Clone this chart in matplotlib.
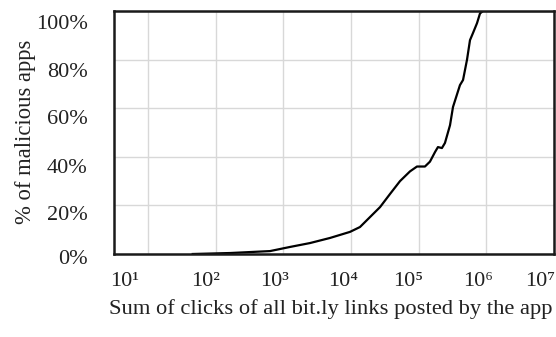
import numpy as np
import matplotlib
matplotlib.use("Agg")
import matplotlib.pyplot as plt
from matplotlib.transforms import ScaledTranslation

plt.rcParams['font.family'] = ['Liberation Serif', 'DejaVu Serif']

# data
clicks = [46, 164, 638, 1259, 2483, 4909, 9683, 13610, 19140, 26920, 37800, 53100, 74600,
          94600, 124000, 147000, 175000, 193000, 221000, 245000, 291000, 322000,
          408000, 453000, 519000, 574000, 637000, 729000, 807000, 893000, 1e7]
pct = [0, 0.4, 1.2, 2.9, 4.5, 6.6, 9.1, 11.1, 15.2, 19.3, 24.7, 30, 34,
       36, 36, 38, 42, 44, 43.6, 45.7, 53, 60.5,
       69.5, 71.6, 80, 88, 91, 95, 99, 100, 100]

x_ticks = [1e1, 1e2, 1e3, 1e4, 1e5, 1e6, 1e7]
x_tick_labels = ['10¹', '10²', '10³', '10⁴', '10⁵', '10⁶', '10⁷']
y_ticks = [0, 20, 40, 60, 80, 100]
y_tick_labels = ['0%', '20%', '40%', '60%', '80%', '100%']

W, H = 556, 337
fig = plt.figure(figsize=(W / 100, H / 100), dpi=100)
ax = fig.add_axes([114 / W, 1 - 254 / H, 440 / W, 243 / H])

ax.plot(clicks, pct, color='black', lw=1.6, solid_joinstyle='round')
ax.set_xscale('log')
ax.set_xlim(10 ** 0.5, 1e7)
ax.set_ylim(0, 100)
ax.set_xticks(x_ticks)
ax.set_xticklabels(x_tick_labels)
ax.minorticks_off()
ax.set_yticks(y_ticks)
ax.set_yticklabels(y_tick_labels)
ax.grid(True, color='#d8d8d8', lw=1)
ax.set_axisbelow(True)
ax.tick_params(axis='both', length=0, labelsize=16, colors='#222222')
ax.tick_params(axis='x', pad=13)
ax.tick_params(axis='y', pad=19)
for s in ax.spines.values():
    s.set_linewidth(1.8)
    s.set_color('#1a1a1a')

x_label_shift_px = [-23, -10, -9, -8, -10, -8, -14]
for lab, sh in zip(ax.get_xticklabels(), x_label_shift_px):
    lab.set_transform(lab.get_transform() + ScaledTranslation(sh / 100, 0, fig.dpi_scale_trans))
y_label_shift_px = [-3, -8, -9, -9, -10, -11]
for lab, sh in zip(ax.get_yticklabels(), y_label_shift_px):
    lab.set_transform(lab.get_transform() + ScaledTranslation(0, sh / 100, fig.dpi_scale_trans))

fig.text(331 / W, 1 - 309 / H, 'Sum of clicks of all bit.ly links posted by the app',
         ha='center', va='center', fontsize=16.2, color='#222222')
fig.text(26 / W, 1 - 132 / H, '% of malicious apps', rotation=90,
         ha='center', va='center', fontsize=16.3, color='#222222')

fig.savefig('out.png', dpi=100)
